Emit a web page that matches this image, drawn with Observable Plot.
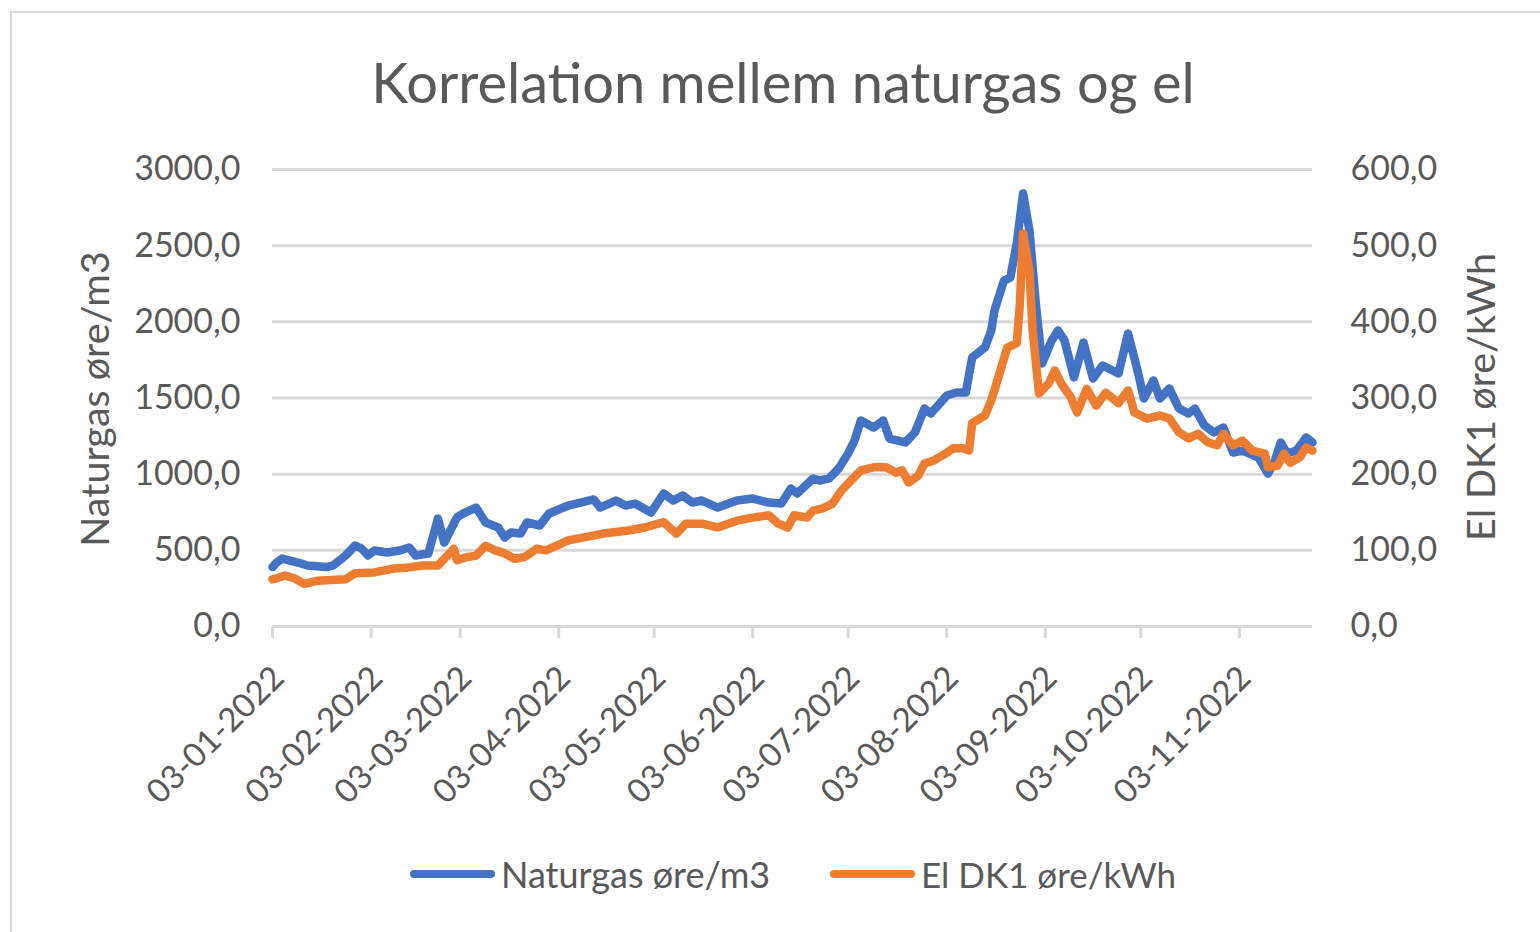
<!DOCTYPE html>
<html><head><meta charset="utf-8">
<script src="https://cdn.jsdelivr.net/npm/d3@7"></script>
<script src="https://cdn.jsdelivr.net/npm/@observablehq/plot@0.6"></script>
<style>
body{margin:0;background:#fff;width:1540px;height:932px;overflow:hidden;font-family:Lato,"Open Sans",sans-serif;color:#595959;position:relative}
#frame{position:absolute;left:10px;top:11px;width:1560px;height:960px;border-left:2px solid #d9d9d9;border-top:2px solid #d9d9d9}
#title{position:absolute;left:0;width:1566px;top:50px;text-align:center;font-size:56px;line-height:64px;white-space:nowrap}
#chart{position:absolute;left:0;top:130px}
.ylab{position:absolute;font-size:39.5px;white-space:nowrap;transform:translate(-50%,-50%) rotate(-90deg)}
.leg{position:absolute;top:852px;font-size:36px;line-height:44px;white-space:nowrap;display:flex;align-items:center}
.sw{display:inline-block;width:85px;height:8px;border-radius:4px;margin-right:6px}
</style></head><body>
<div id="frame"></div>
<div id="title">Korrelation mellem naturgas og el</div>
<div id="chart"></div>
<div class="ylab" style="left:93px;top:399px">Naturgas øre/m3</div>
<div class="ylab" style="left:1479px;top:397px">El DK1 øre/kWh</div>
<div class="leg" style="left:410px"><span class="sw" style="background:#4472C4"></span>Naturgas øre/m3</div>
<div class="leg" style="left:830px;font-size:35px"><span class="sw" style="background:#ED7D31"></span>El DK1 øre/kWh</div>
<script>
const gasDates = ["2022-01-03","2022-01-04","2022-01-06","2022-01-11","2022-01-14","2022-01-20","2022-01-22","2022-01-26","2022-01-29","2022-01-31","2022-02-02","2022-02-04","2022-02-08","2022-02-12","2022-02-15","2022-02-17","2022-02-21","2022-02-24","2022-02-26","2022-03-02","2022-03-04","2022-03-08","2022-03-11","2022-03-15","2022-03-17","2022-03-19","2022-03-22","2022-03-24","2022-03-28","2022-03-31","2022-04-06","2022-04-14","2022-04-16","2022-04-21","2022-04-24","2022-04-27","2022-05-02","2022-05-06","2022-05-09","2022-05-12","2022-05-15","2022-05-18","2022-05-23","2022-05-29","2022-06-03","2022-06-08","2022-06-12","2022-06-15","2022-06-17","2022-06-22","2022-06-24","2022-06-27","2022-06-30","2022-07-03","2022-07-05","2022-07-07","2022-07-11","2022-07-14","2022-07-16","2022-07-21","2022-07-24","2022-07-27","2022-07-29","2022-08-03","2022-08-06","2022-08-09","2022-08-11","2022-08-15","2022-08-17","2022-08-18","2022-08-21","2022-08-23","2022-08-25","2022-08-27","2022-08-29","2022-08-31","2022-09-02","2022-09-05","2022-09-07","2022-09-09","2022-09-12","2022-09-15","2022-09-18","2022-09-21","2022-09-26","2022-09-29","2022-10-02","2022-10-04","2022-10-07","2022-10-09","2022-10-12","2022-10-15","2022-10-18","2022-10-20","2022-10-23","2022-10-26","2022-10-29","2022-11-01","2022-11-04","2022-11-09","2022-11-12","2022-11-14","2022-11-16","2022-11-18","2022-11-21","2022-11-24","2022-11-26"];
const gasValues = [390,414,446,420,400,390,400,466,532,512,466,499,486,499,519,466,479,709,551,716,742,781,683,650,584,617,610,683,663,742,794,834,781,827,794,807,748,873,827,860,814,827,781,827,840,814,807,906,873,972,958,972,1037,1136,1221,1352,1306,1352,1234,1208,1274,1431,1398,1516,1536,1536,1766,1832,1943,2074,2271,2291,2514,2843,2600,2120,1727,1878,1943,1878,1635,1864,1628,1713,1661,1923,1680,1497,1615,1497,1562,1431,1398,1431,1320,1274,1306,1142,1155,1109,1004,1077,1208,1136,1155,1241,1208];
const elDates = ["2022-01-03","2022-01-04","2022-01-07","2022-01-10","2022-01-13","2022-01-17","2022-01-26","2022-01-29","2022-02-04","2022-02-10","2022-02-14","2022-02-19","2022-02-24","2022-02-27","2022-03-01","2022-03-02","2022-03-05","2022-03-08","2022-03-11","2022-03-14","2022-03-17","2022-03-20","2022-03-23","2022-03-24","2022-03-27","2022-03-30","2022-04-06","2022-04-17","2022-04-25","2022-04-30","2022-05-06","2022-05-10","2022-05-13","2022-05-18","2022-05-23","2022-05-29","2022-06-03","2022-06-08","2022-06-11","2022-06-14","2022-06-16","2022-06-20","2022-06-22","2022-06-25","2022-06-28","2022-07-01","2022-07-04","2022-07-07","2022-07-11","2022-07-15","2022-07-18","2022-07-20","2022-07-22","2022-07-25","2022-07-27","2022-07-30","2022-08-03","2022-08-05","2022-08-08","2022-08-10","2022-08-11","2022-08-15","2022-08-17","2022-08-18","2022-08-22","2022-08-25","2022-08-26","2022-08-27","2022-08-29","2022-08-30","2022-09-01","2022-09-04","2022-09-06","2022-09-08","2022-09-11","2022-09-13","2022-09-16","2022-09-19","2022-09-22","2022-09-26","2022-09-29","2022-10-01","2022-10-05","2022-10-09","2022-10-12","2022-10-15","2022-10-18","2022-10-21","2022-10-24","2022-10-27","2022-10-29","2022-11-01","2022-11-04","2022-11-07","2022-11-11","2022-11-12","2022-11-15","2022-11-17","2022-11-19","2022-11-22","2022-11-24","2022-11-26"];
const elValues = [62,63,67,63,56,60,62,70,71,76,77,80,80,93,102,87,91,93,106,100,96,89,91,93,102,100,113,122,126,130,137,122,135,135,130,139,143,146,135,130,146,143,152,155,161,179,192,205,209,209,202,205,189,198,214,218,228,234,234,231,267,277,297,310,366,372,424,516,467,389,306,319,336,319,301,281,312,290,307,293,310,281,273,277,273,255,247,253,242,238,253,238,244,231,227,209,211,227,215,222,235,231];
const xTickDates = ["2022-01-03","2022-02-03","2022-03-03","2022-04-03","2022-05-03","2022-06-03","2022-07-03","2022-08-03","2022-09-03","2022-10-03","2022-11-03"];
const yTicksLeft = [0,500,1000,1500,2000,2500,3000];
const yTicksRight = [0,100,200,300,400,500,600];

const ratio = 3000 / 600;
const fmt = v => v.toFixed(1).replace(".", ",");
const gas = gasDates.map((d, i) => ({date: new Date(d), v: gasValues[i]}));
const el = elDates.map((d, i) => ({date: new Date(d), v: elValues[i]}));
const xTicks = xTickDates.map(d => new Date(d));

const chart = Plot.plot({
  width: 1540, height: 700,
  marginTop: 39, marginBottom: 204, marginLeft: 272, marginRight: 228,
  x: {type: "utc", domain: [new Date("2022-01-03"), new Date("2022-11-26")]},
  y: {domain: [0, 3000]},
  style: {fontFamily: "Lato, 'Open Sans', sans-serif", fontSize: "34px", color: "#595959", background: "transparent", overflow: "visible"},
  marks: [
    Plot.ruleY(yTicksLeft, {stroke: "#d9d9d9", strokeWidth: 3}),
    Plot.axisY({anchor: "left", ticks: yTicksLeft, tickSize: 0, tickPadding: 32, tickFormat: fmt, label: null, fill: "#595959"}),
    Plot.axisY({anchor: "right", ticks: yTicksRight.map(v => v * ratio), tickSize: 0, tickPadding: 38, tickFormat: d => fmt(d / ratio), label: null, fill: "#595959"}),
    Plot.axisX({ticks: xTicks, tickFormat: () => "", tickSize: 12, stroke: "#d9d9d9", strokeWidth: 3, strokeOpacity: 1, label: null}),
    Plot.axisX({ticks: xTicks, tickFormat: d3.utcFormat("%d-%m-%Y"), tickRotate: -45, tickSize: 0, tickPadding: 46, dx: 6, fontSize: 33, fill: "#595959", label: null}),
    Plot.lineY(gas, {x: "date", y: "v", stroke: "#4472C4", strokeWidth: 8.5, strokeLinejoin: "round", strokeLinecap: "round"}),
    Plot.lineY(el, {x: "date", y: d => d.v * ratio, stroke: "#ED7D31", strokeWidth: 8.5, strokeLinejoin: "round", strokeLinecap: "round"})
  ]
});
document.getElementById("chart").appendChild(chart);
</script>
</body></html>
